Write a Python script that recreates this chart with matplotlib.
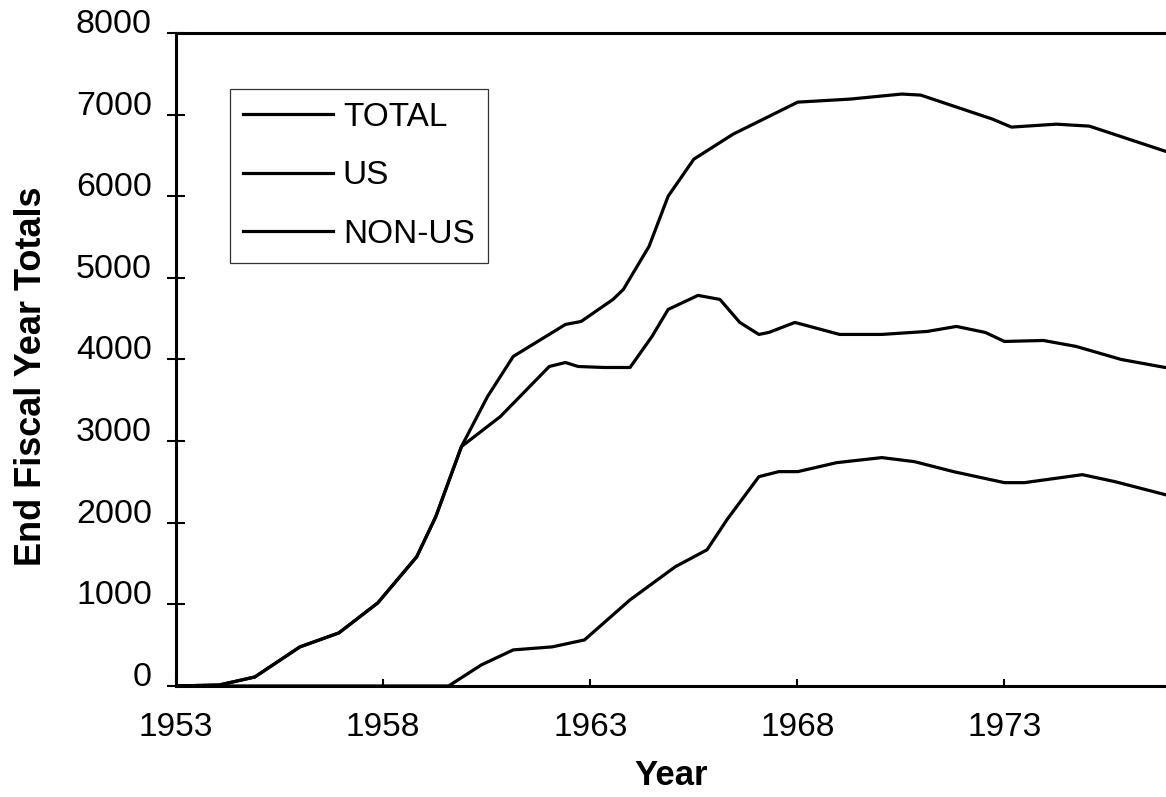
import matplotlib
matplotlib.use('Agg')
import matplotlib.pyplot as plt

# Values (year, end fiscal year totals)
total_years = [1953.0, 1954.04, 1954.9, 1955.99, 1956.93, 1957.87, 1958.81, 1959.27,
               1959.89, 1960.52, 1961.14, 1962.4, 1962.78, 1963.55, 1963.8, 1964.42,
               1964.88, 1965.5, 1966.45, 1968.01, 1969.27, 1970.52, 1970.98, 1972.71,
               1973.17, 1974.25, 1975.05, 1976.88]
total_vals = [0, 12, 110, 479, 650, 1018, 1583, 2074,
              2933, 3546, 4037, 4429, 4466, 4736, 4859, 5387,
              6000, 6454, 6761, 7153, 7190, 7252, 7239, 6945,
              6847, 6883, 6859, 6552]

us_years = [1953.0, 1954.04, 1954.9, 1955.99, 1956.93, 1957.87, 1958.81, 1959.27,
            1959.89, 1960.83, 1962.01, 1962.4, 1962.71, 1963.34, 1963.96, 1964.49,
            1964.88, 1965.6, 1966.13, 1966.61, 1967.07, 1967.31, 1967.94, 1969.02,
            1970.04, 1971.14, 1971.84, 1972.54, 1973.0, 1973.94, 1974.73, 1975.82,
            1976.88]
us_vals = [0, 12, 110, 479, 650, 1018, 1583, 2074,
           2933, 3301, 3914, 3963, 3914, 3902, 3902, 4282,
           4613, 4785, 4736, 4454, 4307, 4331, 4454, 4307,
           4307, 4344, 4405, 4331, 4221, 4233, 4160, 4000,
           3902]

nonus_years = [1953.0, 1959.58, 1960.37, 1961.14, 1962.08, 1962.86, 1963.96, 1965.05,
               1965.82, 1966.3, 1967.07, 1967.55, 1968.01, 1968.95, 1970.04, 1970.83,
               1971.77, 1973.0, 1973.48, 1974.88, 1975.67, 1976.88]
nonus_vals = [0, 0, 258, 442, 479, 564, 1055, 1460,
              1669, 2037, 2564, 2626, 2626, 2736, 2798, 2748,
              2626, 2491, 2491, 2589, 2503, 2344]

x_ticks = [1953, 1958, 1963, 1968, 1973]
y_ticks = [0, 1000, 2000, 3000, 4000, 5000, 6000, 7000, 8000]

plt.rcParams['font.family'] = ['Liberation Sans', 'DejaVu Sans']
plt.rcParams['ytick.alignment'] = 'baseline'

fig = plt.figure(figsize=(11.66, 7.97), dpi=100)
ax = fig.add_axes([0.151, 0.1393, 0.849, 0.8193])

ax.plot(total_years, total_vals, color='black', lw=2.3, label='TOTAL')
ax.plot(us_years, us_vals, color='black', lw=2.3, label='US')
ax.plot(nonus_years, nonus_vals, color='black', lw=2.3, label='NON-US')

ax.set_xlim(1953, 1976.9)
ax.set_ylim(0, 8000)
ax.set_xticks(x_ticks)
ax.set_yticks(y_ticks)

ax.tick_params(axis='x', direction='in', length=5, width=1.5, pad=19, labelsize=24)
ax.tick_params(axis='y', direction='inout', length=13, width=1.5, pad=11, labelsize=24.5)

for side in ['left', 'bottom', 'top']:
    ax.spines[side].set_linewidth(2.2)
ax.spines['right'].set_visible(False)

ax.set_xlabel('Year', fontsize=25, fontweight='bold', labelpad=11)
ax.set_ylabel('End Fiscal Year Totals', fontsize=26, fontweight='bold')
ax.yaxis.set_label_coords(-0.128, 0.475)

leg = ax.legend(loc='upper left', bbox_to_anchor=(0.0546, 0.9145), borderaxespad=0,
                fontsize=24, handlelength=2.7, handletextpad=0.28, labelspacing=0.82,
                borderpad=0.4, fancybox=False, frameon=True)
leg.get_frame().set_edgecolor('black')
leg.get_frame().set_linewidth(0.9)

plt.savefig('out.png', dpi=100)
